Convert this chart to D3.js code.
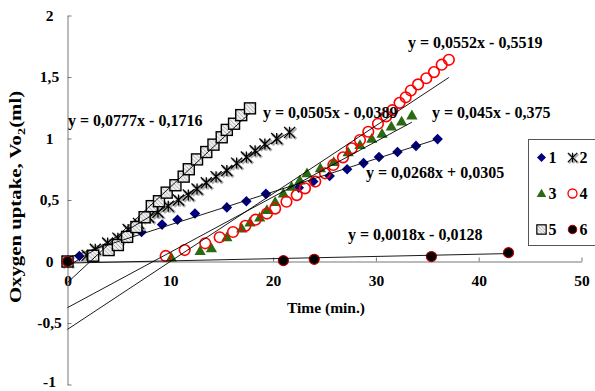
<!DOCTYPE html>
<html>
<head>
<meta charset="utf-8">
<script src="https://cdn.jsdelivr.net/npm/d3@7"></script>
<style>
body { margin: 0; background: #fff; }
svg text { font-family: "Liberation Serif", "DejaVu Serif", serif !important; font-weight: 700; }
</style>
</head>
<body>
<div id="chart"></div>
<script>

// values (time in min, uptake in ml)
var s1x = [0, 1.15, 5.9, 7.2, 9.2, 10.7, 12.4, 15.5, 17.4, 19.3, 22.5, 23.9, 25.5, 27.2, 28.8, 30.3, 32.1, 33.9, 36.0];
var s1y = [0, 0.045, 0.19, 0.24, 0.30, 0.34, 0.39, 0.44, 0.49, 0.55, 0.60, 0.65, 0.695, 0.75, 0.80, 0.85, 0.89, 0.94, 0.995];
var s2x = [0, 1.9, 2.7, 3.9, 4.9, 5.9, 6.9, 7.9, 8.8, 9.8, 10.8, 11.75, 12.6, 13.5, 14.45, 15.5, 16.45, 17.4, 18.25, 19.2, 20.35, 21.6];
var s2y = [0, 0.05, 0.10, 0.15, 0.19, 0.26, 0.31, 0.36, 0.40, 0.45, 0.50, 0.54, 0.59, 0.64, 0.69, 0.74, 0.80, 0.85, 0.90, 0.955, 1.0, 1.05];
var s3x = [0, 10.1, 12.9, 14.0, 15.5, 16.95, 17.75, 18.7, 19.4, 20.2, 21.0, 21.8, 22.6, 23.3, 24.6, 25.9, 27.3, 28.45, 29.6, 30.6, 31.5, 32.5, 33.5];
var s3y = [0, 0.034, 0.088, 0.11, 0.20, 0.27, 0.32, 0.36, 0.42, 0.486, 0.555, 0.61, 0.66, 0.72, 0.76, 0.81, 0.89, 0.95, 1.0, 1.04, 1.10, 1.14, 1.19];
var s4x = [0, 9.55, 11.4, 13.4, 14.8, 16.1, 17.3, 18.3, 19.4, 20.2, 21.3, 22.3, 23.1, 24.1, 25.05, 25.86, 26.8, 27.65, 28.45, 29.26, 30.2, 31.0, 31.6, 32.3, 32.9, 33.4, 34.1, 34.9, 35.65, 36.4, 37.1];
var s4y = [0, 0.045, 0.093, 0.148, 0.197, 0.24, 0.29, 0.34, 0.39, 0.43, 0.486, 0.54, 0.595, 0.65, 0.717, 0.785, 0.847, 0.92, 0.988, 1.055, 1.12, 1.18, 1.23, 1.29, 1.335, 1.39, 1.44, 1.49, 1.54, 1.60, 1.64];
var s5x = [0, 2.5, 4.0, 4.9, 5.8, 6.7, 7.5, 8.2, 8.9, 9.65, 10.5, 11.3, 11.8, 12.6, 13.5, 14.2, 15.0, 15.5, 16.2, 16.9, 17.75];
var s5y = [0, 0.047, 0.093, 0.134, 0.20, 0.28, 0.36, 0.45, 0.49, 0.56, 0.62, 0.69, 0.75, 0.83, 0.89, 0.95, 1.01, 1.07, 1.12, 1.19, 1.245];
var s6x = [0, 21.0, 24.0, 35.4, 42.9];
var s6y = [0, 0.007, 0.018, 0.04, 0.072];

var seriesNames = ["1", "2", "3", "4", "5", "6"];
var slopes = [0.0268, 0.0505, 0.045, 0.0552, 0.0777, 0.0018];
var intercepts = [0.0305, -0.0389, -0.375, -0.5519, -0.1716, -0.0128];
var equations = ["y = 0,0268x + 0,0305", "y = 0,0505x - 0,0389", "y = 0,045x - 0,375",
                 "y = 0,0552x - 0,5519", "y = 0,0777x - 0,1716", "y = 0,0018x - 0,0128"];

var xTicks = [0, 10, 20, 30, 40, 50];
var yTicks = [-1, -0.5, 0, 0.5, 1, 1.5, 2];

var w = 595, h = 391;
var svg = d3.select("#chart").append("svg")
    .attr("width", w)
    .attr("height", h)
    .attr("font-family", "Liberation Serif");

var x = d3.scaleLinear().domain([0, 50]).range([67.5, 581.5]);
var y = d3.scaleLinear().domain([-1, 2]).range([384.5, 15.5]);

var fmt = function(d) { return String(d).replace(".", ","); };

// hatch for the square markers
svg.append("defs").append("pattern")
    .attr("id", "hatch")
    .attr("patternUnits", "userSpaceOnUse")
    .attr("width", 4).attr("height", 4)
    .call(function(p) {
        p.append("rect").attr("width", 4).attr("height", 4).attr("fill", "#f2f2f2");
        p.append("path").attr("d", "M0,0 L4,4 M-1,3 L1,5 M3,-1 L5,1")
            .attr("stroke", "#a8a8a8").attr("stroke-width", 1);
    });

// axes
var xg = svg.append("g")
    .attr("transform", "translate(0," + y(0) + ")")
    .call(d3.axisBottom(x).tickValues(xTicks).tickSizeInner(-4).tickSizeOuter(0).tickPadding(13).tickFormat(fmt));
var yg = svg.append("g")
    .attr("transform", "translate(" + x(0) + ",0)")
    .call(d3.axisLeft(y).tickValues(yTicks).tickSizeInner(-4).tickSizeOuter(0).tickFormat(fmt));

svg.selectAll(".domain, .tick line").attr("stroke", "#777");
svg.selectAll("g").attr("font-family", null);
xg.selectAll("text").attr("font-size", 15.5).attr("fill", "#000");
yg.selectAll("text").attr("font-size", 15.5).attr("fill", "#000")
    .attr("text-anchor", "middle").attr("x", -18).attr("dy", "0.3em");
// keep the bottom label inside the frame
yg.selectAll("text").filter(function(d) { return d === -1; }).attr("dy", "0.1em");

svg.append("text")
    .attr("x", 326).attr("y", 313)
    .attr("text-anchor", "middle")
    .attr("font-size", 15.5)
    .text("Time (min.)");

// the reference title is drawn long and narrow
var yt = svg.append("text")
    .attr("transform", "translate(21,197) rotate(-90) scale(1.3,1)")
    .attr("text-anchor", "middle")
    .attr("font-size", 16);
yt.append("tspan").text("Oxygen uptake, Vo");
yt.append("tspan").attr("font-size", 11).attr("dy", 4).text("2");
yt.append("tspan").attr("dy", -4).text("(ml)");

// marker painters
function star(s) {
    return "M" + -s + "," + -s + "L" + s + "," + s + "M" + -s + "," + s + "L" + s + "," + -s + "M0," + -s + "L0," + s;
}
var markers = [
    function(g) { g.append("path").attr("d", d3.symbol(d3.symbolSquare, 56)()).attr("transform", "rotate(45)").attr("fill", "#000080"); },
    function(g) {
        g.append("path").attr("d", star(5.5)).attr("transform", "translate(1.2,1.2)").attr("stroke", "#b0b0b0").attr("stroke-width", 3);
        g.append("path").attr("d", star(5.5)).attr("stroke", "#000").attr("stroke-width", 1.3);
    },
    function(g) { g.append("path").attr("d", d3.symbol(d3.symbolTriangle, 55)()).attr("transform", "translate(0,1)").attr("fill", "#2a6a10"); },
    function(g) { g.append("circle").attr("r", 5.3).attr("fill", "none").attr("stroke", "#ff0000").attr("stroke-width", 1.6); },
    function(g) { g.append("rect").attr("x", -5.5).attr("y", -5.5).attr("width", 11).attr("height", 11).attr("fill", "url(#hatch)").attr("stroke", "#000").attr("stroke-width", 1.4); },
    function(g) { g.append("circle").attr("r", 5).attr("fill", "#000").attr("stroke", "#b00000").attr("stroke-width", 1.2); }
];

var xs = [s1x, s2x, s3x, s4x, s5x, s6x];
var ys = [s1y, s2y, s3y, s4y, s5y, s6y];

xs.forEach(function(sx, i) {
    var pts = sx.map(function(v, j) { return [v, ys[i][j]]; });
    svg.append("g").selectAll("g")
        .data(pts)
        .enter()
        .append("g")
        .attr("transform", function(d) { return "translate(" + x(d[0]) + "," + y(d[1]) + ")"; })
        .each(function() { markers[i](d3.select(this)); });
});

// linear trendlines from 0 to last point
xs.forEach(function(sx, i) {
    var x1 = d3.max(sx);
    svg.append("line")
        .attr("x1", x(0)).attr("y1", y(intercepts[i]))
        .attr("x2", x(x1)).attr("y2", y(slopes[i] * x1 + intercepts[i]))
        .attr("stroke", "#000").attr("stroke-width", 0.9);
});

var eqPos = [[366, 178], [263, 118], [432, 118], [408, 48], [68, 126], [348, 240]];
svg.selectAll(".eq")
    .data(equations)
    .enter()
    .append("text")
    .attr("class", "eq")
    .attr("x", function(d, i) { return eqPos[i][0]; })
    .attr("y", function(d, i) { return eqPos[i][1]; })
    .attr("font-size", 16)
    .text(function(d) { return d; });

// legend
var lg = svg.append("g").attr("transform", "translate(528.5,139.5)");
lg.append("rect").attr("width", 80).attr("height", 106).attr("fill", "#fff").attr("stroke", "#555");
seriesNames.forEach(function(n, i) {
    var cx = i % 2 ? 44 : 13, cy = 18 + Math.floor(i / 2) * 36;
    var g = lg.append("g").attr("transform", "translate(" + cx + "," + cy + ") scale(0.85)");
    markers[i](g);
    lg.append("text").attr("x", cx + 7).attr("y", cy + 5.5).attr("font-size", 16).text(n);
});

</script>
</body>
</html>
